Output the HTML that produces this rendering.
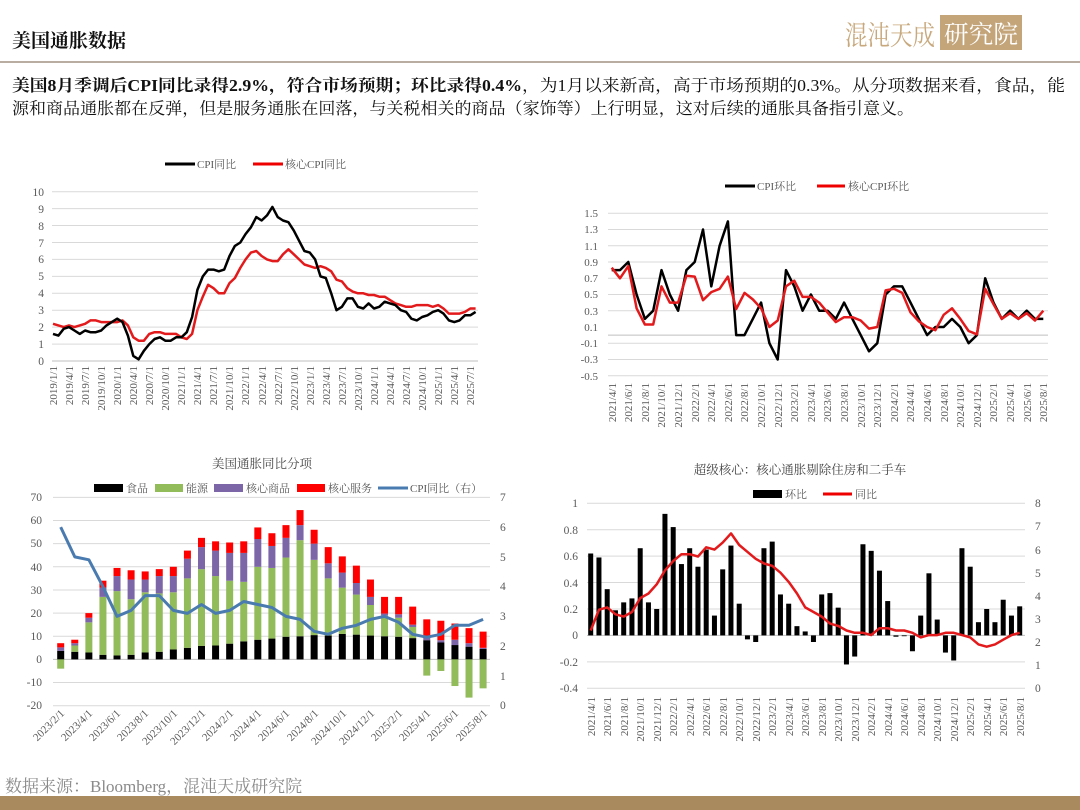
<!DOCTYPE html>
<html><head><meta charset="utf-8"><style>
body{margin:0;width:1080px;height:810px;background:#fff;overflow:hidden;position:relative;font-family:"Liberation Serif","Noto Serif CJK SC",serif}
svg{position:absolute;left:0;top:0}
</style></head><body>
<svg width="1080" height="810" viewBox="0 0 1080 810" font-family="Liberation Serif, Noto Serif CJK SC, serif">
<!-- header -->
<text x="12" y="47" font-size="19" font-weight="bold" fill="#111">美国通胀数据</text>
<text x="845" y="45" font-size="27" fill="#c8a97e" textLength="90" lengthAdjust="spacingAndGlyphs">混沌天成</text>
<rect x="940" y="15" width="82" height="35" fill="#c4a57a"/>
<text x="944" y="43" font-size="25" fill="#fff" textLength="74" lengthAdjust="spacingAndGlyphs">研究院</text>
<rect x="0" y="61" width="1080" height="2" fill="#b8ada0"/>
<text x="12" y="91" font-size="16.5" fill="#111" textLength="1053" lengthAdjust="spacingAndGlyphs"><tspan font-weight="bold">美国8月季调后CPI同比录得2.9%，符合市场预期；环比录得0.4%</tspan>，为1月以来新高，高于市场预期的0.3%。从分项数据来看，食品，能</text>
<text x="12" y="114" font-size="16.5" fill="#111" textLength="902" lengthAdjust="spacingAndGlyphs">源和商品通胀都在反弹，但是服务通胀在回落，与关税相关的商品（家饰等）上行明显，这对后续的通胀具备指引意义。</text>
<text x="5" y="792" font-size="17" fill="#8a8a8a">数据来源：Bloomberg，混沌天成研究院</text>
<rect x="0" y="796" width="1080" height="14" fill="#a88a5e"/>

<g font-size="11.5" fill="#595959">
<!-- chart1 -->
<g id="c1"></g>
<line x1="165" y1="164" x2="195" y2="164" stroke="#000" stroke-width="3"/><text x="197" y="168" font-size="11">CPI同比</text>
<line x1="253" y1="164" x2="283" y2="164" stroke="#e00" stroke-width="3"/><text x="285" y="168" font-size="11">核心CPI同比</text>
<g text-anchor="end">
<text x="44" y="365">0</text><text x="44" y="348">1</text><text x="44" y="331">2</text><text x="44" y="314">3</text><text x="44" y="297">4</text><text x="44" y="280">5</text><text x="44" y="263">6</text><text x="44" y="247">7</text><text x="44" y="230">8</text><text x="44" y="213">9</text><text x="44" y="196">10</text>
</g>
<g text-anchor="end" font-size="11">
<text transform="translate(57,366) rotate(-90)">2019/1/1</text><text transform="translate(73,366) rotate(-90)">2019/4/1</text><text transform="translate(89,366) rotate(-90)">2019/7/1</text><text transform="translate(105,366) rotate(-90)">2019/10/1</text><text transform="translate(121,366) rotate(-90)">2020/1/1</text><text transform="translate(137,366) rotate(-90)">2020/4/1</text><text transform="translate(153,366) rotate(-90)">2020/7/1</text><text transform="translate(169,366) rotate(-90)">2020/10/1</text><text transform="translate(185,366) rotate(-90)">2021/1/1</text><text transform="translate(201,366) rotate(-90)">2021/4/1</text><text transform="translate(217,366) rotate(-90)">2021/7/1</text><text transform="translate(233,366) rotate(-90)">2021/10/1</text><text transform="translate(249,366) rotate(-90)">2022/1/1</text><text transform="translate(266,366) rotate(-90)">2022/4/1</text><text transform="translate(282,366) rotate(-90)">2022/7/1</text><text transform="translate(298,366) rotate(-90)">2022/10/1</text><text transform="translate(314,366) rotate(-90)">2023/1/1</text><text transform="translate(330,366) rotate(-90)">2023/4/1</text><text transform="translate(346,366) rotate(-90)">2023/7/1</text><text transform="translate(362,366) rotate(-90)">2023/10/1</text><text transform="translate(378,366) rotate(-90)">2024/1/1</text><text transform="translate(394,366) rotate(-90)">2024/4/1</text><text transform="translate(410,366) rotate(-90)">2024/7/1</text><text transform="translate(426,366) rotate(-90)">2024/10/1</text><text transform="translate(442,366) rotate(-90)">2025/1/1</text><text transform="translate(458,366) rotate(-90)">2025/4/1</text><text transform="translate(474,366) rotate(-90)">2025/7/1</text>
</g>

<!-- chart2 -->
<g id="c2"></g>
<line x1="725" y1="186" x2="755" y2="186" stroke="#000" stroke-width="3"/><text x="757" y="190" font-size="11">CPI环比</text>
<line x1="817" y1="186" x2="845" y2="186" stroke="#e00" stroke-width="3"/><text x="848" y="190" font-size="11">核心CPI环比</text>
<g text-anchor="end" font-size="11">
<text x="598" y="217">1.5</text><text x="598" y="233">1.3</text><text x="598" y="250">1.1</text><text x="598" y="266">0.9</text><text x="598" y="282">0.7</text><text x="598" y="298">0.5</text><text x="598" y="315">0.3</text><text x="598" y="331">0.1</text><text x="598" y="347">-0.1</text><text x="598" y="363">-0.3</text><text x="598" y="380">-0.5</text>
</g>
<g text-anchor="end" font-size="11">
<text transform="translate(616,383) rotate(-90)">2021/4/1</text><text transform="translate(632,383) rotate(-90)">2021/6/1</text><text transform="translate(649,383) rotate(-90)">2021/8/1</text><text transform="translate(665,383) rotate(-90)">2021/10/1</text><text transform="translate(682,383) rotate(-90)">2021/12/1</text><text transform="translate(699,383) rotate(-90)">2022/2/1</text><text transform="translate(715,383) rotate(-90)">2022/4/1</text><text transform="translate(732,383) rotate(-90)">2022/6/1</text><text transform="translate(748,383) rotate(-90)">2022/8/1</text><text transform="translate(765,383) rotate(-90)">2022/10/1</text><text transform="translate(782,383) rotate(-90)">2022/12/1</text><text transform="translate(798,383) rotate(-90)">2023/2/1</text><text transform="translate(815,383) rotate(-90)">2023/4/1</text><text transform="translate(831,383) rotate(-90)">2023/6/1</text><text transform="translate(848,383) rotate(-90)">2023/8/1</text><text transform="translate(865,383) rotate(-90)">2023/10/1</text><text transform="translate(881,383) rotate(-90)">2023/12/1</text><text transform="translate(898,383) rotate(-90)">2024/2/1</text><text transform="translate(914,383) rotate(-90)">2024/4/1</text><text transform="translate(931,383) rotate(-90)">2024/6/1</text><text transform="translate(948,383) rotate(-90)">2024/8/1</text><text transform="translate(964,383) rotate(-90)">2024/10/1</text><text transform="translate(981,383) rotate(-90)">2024/12/1</text><text transform="translate(997,383) rotate(-90)">2025/2/1</text><text transform="translate(1014,383) rotate(-90)">2025/4/1</text><text transform="translate(1031,383) rotate(-90)">2025/6/1</text><text transform="translate(1047,383) rotate(-90)">2025/8/1</text>
</g>

<!-- chart3 -->
<g id="c3"></g>
<text x="262" y="468" font-size="12.5" text-anchor="middle" fill="#444">美国通胀同比分项</text>
<g font-size="11">
<rect x="94" y="484" width="29" height="8" fill="#000"/><text x="126" y="492">食品</text>
<rect x="155" y="484" width="28" height="8" fill="#92bb5a"/><text x="186" y="492">能源</text>
<rect x="214" y="484" width="29" height="8" fill="#7d66a8"/><text x="246" y="492">核心商品</text>
<rect x="297" y="484" width="28" height="8" fill="#f00"/><text x="328" y="492">核心服务</text>
<line x1="378" y1="488" x2="408" y2="488" stroke="#4a7bb0" stroke-width="3"/><text x="410" y="492">CPI同比（右）</text>
</g>
<g text-anchor="end">
<text x="42" y="501">70</text><text x="42" y="524">60</text><text x="42" y="547">50</text><text x="42" y="571">40</text><text x="42" y="594">30</text><text x="42" y="617">20</text><text x="42" y="640">10</text><text x="42" y="663">0</text><text x="42" y="686">-10</text><text x="42" y="709">-20</text>
</g>
<g>
<text x="500" y="501">7</text><text x="500" y="531">6</text><text x="500" y="561">5</text><text x="500" y="590">4</text><text x="500" y="620">3</text><text x="500" y="650">2</text><text x="500" y="680">1</text><text x="500" y="709">0</text>
</g>
<g text-anchor="end" font-size="11">
<text transform="translate(65,714) rotate(-45)">2023/2/1</text><text transform="translate(93,714) rotate(-45)">2023/4/1</text><text transform="translate(121,714) rotate(-45)">2023/6/1</text><text transform="translate(149,714) rotate(-45)">2023/8/1</text><text transform="translate(178,714) rotate(-45)">2023/10/1</text><text transform="translate(206,714) rotate(-45)">2023/12/1</text><text transform="translate(234,714) rotate(-45)">2024/2/1</text><text transform="translate(262,714) rotate(-45)">2024/4/1</text><text transform="translate(290,714) rotate(-45)">2024/6/1</text><text transform="translate(319,714) rotate(-45)">2024/8/1</text><text transform="translate(347,714) rotate(-45)">2024/10/1</text><text transform="translate(375,714) rotate(-45)">2024/12/1</text><text transform="translate(403,714) rotate(-45)">2025/2/1</text><text transform="translate(431,714) rotate(-45)">2025/4/1</text><text transform="translate(459,714) rotate(-45)">2025/6/1</text><text transform="translate(488,714) rotate(-45)">2025/8/1</text>
</g>

<!-- chart4 -->
<g id="c4"></g>
<text x="800" y="474" font-size="12.5" text-anchor="middle" fill="#444">超级核心：核心通胀剔除住房和二手车</text>
<g font-size="11">
<rect x="753" y="490" width="29" height="8" fill="#000"/><text x="785" y="498">环比</text>
<line x1="823" y1="494" x2="852" y2="494" stroke="#e00" stroke-width="3"/><text x="855" y="498">同比</text>
</g>
<g text-anchor="end">
<text x="578" y="507">1</text><text x="578" y="534">0.8</text><text x="578" y="560">0.6</text><text x="578" y="587">0.4</text><text x="578" y="613">0.2</text><text x="578" y="639">0</text><text x="578" y="666">-0.2</text><text x="578" y="692">-0.4</text>
</g>
<g>
<text x="1035" y="507">8</text><text x="1035" y="530">7</text><text x="1035" y="554">6</text><text x="1035" y="577">5</text><text x="1035" y="600">4</text><text x="1035" y="623">3</text><text x="1035" y="646">2</text><text x="1035" y="669">1</text><text x="1035" y="692">0</text>
</g>
<g text-anchor="end" font-size="11">
<text transform="translate(595,697) rotate(-90)">2021/4/1</text><text transform="translate(611,697) rotate(-90)">2021/6/1</text><text transform="translate(628,697) rotate(-90)">2021/8/1</text><text transform="translate(644,697) rotate(-90)">2021/10/1</text><text transform="translate(661,697) rotate(-90)">2021/12/1</text><text transform="translate(677,697) rotate(-90)">2022/2/1</text><text transform="translate(694,697) rotate(-90)">2022/4/1</text><text transform="translate(710,697) rotate(-90)">2022/6/1</text><text transform="translate(727,697) rotate(-90)">2022/8/1</text><text transform="translate(743,697) rotate(-90)">2022/10/1</text><text transform="translate(760,697) rotate(-90)">2022/12/1</text><text transform="translate(776,697) rotate(-90)">2023/2/1</text><text transform="translate(793,697) rotate(-90)">2023/4/1</text><text transform="translate(809,697) rotate(-90)">2023/6/1</text><text transform="translate(826,697) rotate(-90)">2023/8/1</text><text transform="translate(842,697) rotate(-90)">2023/10/1</text><text transform="translate(859,697) rotate(-90)">2023/12/1</text><text transform="translate(875,697) rotate(-90)">2024/2/1</text><text transform="translate(892,697) rotate(-90)">2024/4/1</text><text transform="translate(908,697) rotate(-90)">2024/6/1</text><text transform="translate(925,697) rotate(-90)">2024/8/1</text><text transform="translate(941,697) rotate(-90)">2024/10/1</text><text transform="translate(958,697) rotate(-90)">2024/12/1</text><text transform="translate(974,697) rotate(-90)">2025/2/1</text><text transform="translate(991,697) rotate(-90)">2025/4/1</text><text transform="translate(1007,697) rotate(-90)">2025/6/1</text><text transform="translate(1024,697) rotate(-90)">2025/8/1</text>
</g>
</g>
</svg>
<script>
var NS="http://www.w3.org/2000/svg";
function el(g,t,a){var e=document.createElementNS(NS,t);for(var k in a)e.setAttribute(k,a[k]);g.appendChild(e);return e;}
function grid(g,x1,x2,ys,axisY){ys.forEach(function(y){el(g,"line",{x1:x1,x2:x2,y1:y,y2:y,stroke:"#d9d9d9","stroke-width":1});});if(axisY!=null)el(g,"line",{x1:x1,x2:x2,y1:axisY,y2:axisY,stroke:"#bfbfbf","stroke-width":1});}
function poly(g,xs,ys,c,w){var p=xs.map(function(x,i){return x.toFixed(1)+","+ys[i].toFixed(1)}).join(" ");el(g,"polyline",{points:p,fill:"none",stroke:c,"stroke-width":w,"stroke-linejoin":"round"});}
function rng(n,x0,dx){var a=[];for(var i=0;i<n;i++)a.push(x0+dx*i);return a;}
(function(){var g=document.getElementById("c1");var ys=[];for(var v=1;v<=10;v++)ys.push(361-16.93*v);grid(g,52,478,ys,361);
var cpi=[1.6,1.5,1.9,2.0,1.8,1.6,1.8,1.7,1.7,1.8,2.1,2.3,2.5,2.3,1.5,0.3,0.1,0.6,1.0,1.3,1.4,1.2,1.2,1.4,1.4,1.7,2.6,4.2,5.0,5.4,5.4,5.3,5.4,6.2,6.8,7.0,7.5,7.9,8.5,8.3,8.6,9.1,8.5,8.3,8.2,7.7,7.1,6.5,6.4,6.0,5.0,4.9,4.0,3.0,3.2,3.7,3.7,3.2,3.1,3.4,3.1,3.2,3.5,3.4,3.3,3.0,2.9,2.5,2.4,2.6,2.7,2.9,3.0,2.8,2.4,2.3,2.4,2.7,2.7,2.9];
var core=[2.2,2.1,2.0,2.1,2.0,2.1,2.2,2.4,2.4,2.3,2.3,2.3,2.3,2.4,2.1,1.4,1.2,1.2,1.6,1.7,1.7,1.6,1.6,1.6,1.4,1.3,1.6,3.0,3.8,4.5,4.3,4.0,4.0,4.6,4.9,5.5,6.0,6.4,6.5,6.2,6.0,5.9,5.9,6.3,6.6,6.3,6.0,5.7,5.6,5.5,5.6,5.5,5.3,4.8,4.7,4.3,4.1,4.0,4.0,3.9,3.9,3.8,3.8,3.6,3.4,3.3,3.2,3.2,3.3,3.3,3.3,3.2,3.3,3.1,2.8,2.8,2.8,2.9,3.1,3.1];
var xs=rng(80,53,5.35);poly(g,xs,core.map(function(v){return 361-16.93*v}),"#e31a1c",2.5);poly(g,xs,cpi.map(function(v){return 361-16.93*v}),"#000",2.5);})();
(function(){var g=document.getElementById("c2");var Y=function(v){return 213.3+(1.5-v)*81.2};var ys=[];for(var i=0;i<11;i++){var v=1.5-0.2*i;if(Math.abs(v-0.1)>0.01)ys.push(Y(v));}grid(g,608,1048,ys,Y(0));
var cpi=[0.8,0.8,0.9,0.5,0.2,0.3,0.8,0.5,0.3,0.8,0.9,1.3,0.6,1.1,1.4,0.0,0.0,0.2,0.4,-0.1,-0.3,0.8,0.6,0.3,0.5,0.3,0.3,0.2,0.4,0.2,0.0,-0.2,-0.1,0.5,0.6,0.6,0.4,0.2,0.0,0.1,0.1,0.2,0.1,-0.1,0.0,0.7,0.4,0.2,0.3,0.2,0.3,0.2,0.2];
var core=[0.83,0.7,0.85,0.33,0.13,0.13,0.6,0.4,0.4,0.73,0.72,0.43,0.53,0.57,0.72,0.32,0.52,0.44,0.33,0.1,0.18,0.6,0.67,0.47,0.47,0.4,0.28,0.16,0.22,0.22,0.18,0.08,0.1,0.55,0.57,0.52,0.28,0.17,0.1,0.06,0.25,0.33,0.2,0.05,0.01,0.57,0.38,0.2,0.27,0.2,0.27,0.18,0.3];
var xs=rng(53,611.7,8.3);poly(g,xs,cpi.map(Y),"#000",2.5);poly(g,xs,core.map(Y),"#e31a1c",2.5);})();
(function(){var g=document.getElementById("c3");var Y=function(v){return 659.4-v*2.315};var R=function(v){return 705.7-v*29.77};var ys=[];for(var v=70;v>=-20;v-=10)if(v!=0)ys.push(Y(v));grid(g,53,490,ys,Y(0));
var d=[[3.7,-4,5.2,7],[3.3,6,7,8.5],[3,16,18,20],[2,27,31,34],[1.7,29.5,36,39.5],[2,26,34.5,38.5],[3,29,34.5,38],[3.3,28.5,36,39],[4.3,29,36,40],[5,35,43.5,47],[5.8,39,48.5,52.5],[6,36,47,51],[6.8,34,46,50.5],[7.8,33.5,46,51],[8.5,40,52,57],[9,39.5,49,54.5],[9.8,44,52.5,58],[10,51.5,58,64.5],[10.5,43,50,56],[10.3,35,41.5,48.5],[11,31,37.5,44.5],[10.7,28,33,40.5],[10.3,23.5,27,34.5],[10,19,19.8,27],[9.8,18,19.5,27],[9.2,14,15,22.8],[8.3,-7,10,17.3],[7.3,-5,8.3,16.7],[6.2,-11.5,8.5,15.5],[5.5,-16.5,7,13.5],[4.5,-12.5,5,12]];
var cpi=[6.0,5.0,4.9,4.0,3.0,3.2,3.7,3.7,3.2,3.1,3.4,3.1,3.2,3.5,3.4,3.3,3.0,2.9,2.5,2.4,2.6,2.7,2.9,3.0,2.8,2.4,2.3,2.4,2.7,2.7,2.9];
var xs=rng(31,60.7,14.08),w=7;
d.forEach(function(r,i){var x=xs[i]-w/2,f=r[0],e=r[1],p=r[2],t=r[3];
el(g,"rect",{x:x,y:Y(f),width:w,height:Y(0)-Y(f),fill:"#000"});
var base=f;if(e<0){el(g,"rect",{x:x,y:Y(0),width:w,height:Y(e)-Y(0),fill:"#92bb5a"});}else{el(g,"rect",{x:x,y:Y(e),width:w,height:Y(f)-Y(e),fill:"#92bb5a"});base=e;}
el(g,"rect",{x:x,y:Y(p),width:w,height:Math.max(0,Y(base)-Y(p)),fill:"#7d66a8"});
el(g,"rect",{x:x,y:Y(t),width:w,height:Y(p)-Y(t),fill:"#f00"});});
poly(g,xs,cpi.map(R),"#4a7bb0",3);})();
(function(){var g=document.getElementById("c4");var Y=function(v){return 635.4-v*132.1};var R=function(v){return 688.3-v*23.12};var ys=[];for(var i=0;i<8;i++){var v=1-0.2*i;if(Math.abs(v)>0.01)ys.push(Y(v));}grid(g,587,1025,ys,Y(0));
var b=[.62,.59,.35,.19,.25,.28,.66,.25,.2,.92,.82,.54,.66,.52,.65,.15,.5,.68,.24,-.03,-.05,.66,.71,.31,.24,.07,.03,-.05,.31,.32,.21,-.22,-.16,.69,.64,.49,.26,-.01,0,-.12,.15,.47,.12,-.13,-.19,.66,.52,.1,.2,.1,.27,.15,.22];
var yy=[2.5,3.4,3.5,3.2,3.1,3.3,3.9,4.1,4.5,5.1,5.5,5.8,5.8,5.7,6.1,6.0,6.3,6.7,6.2,5.9,5.6,5.4,5.3,5.0,4.6,4.1,3.5,3.3,3.1,2.8,2.7,2.5,2.4,2.4,2.3,2.6,2.6,2.5,2.5,2.4,2.2,2.3,2.3,2.4,2.4,2.3,2.2,1.9,1.8,1.9,2.1,2.3,2.4];
var xs=rng(53,590.7,8.25),w=5;
b.forEach(function(v,i){var y0=Y(0),y1=Y(v);el(g,"rect",{x:xs[i]-w/2,y:Math.min(y0,y1),width:w,height:Math.max(0.8,Math.abs(y1-y0)),fill:"#000"});});
poly(g,xs,yy.map(R),"#e31a1c",2.5);})();
</script>
</body></html>
